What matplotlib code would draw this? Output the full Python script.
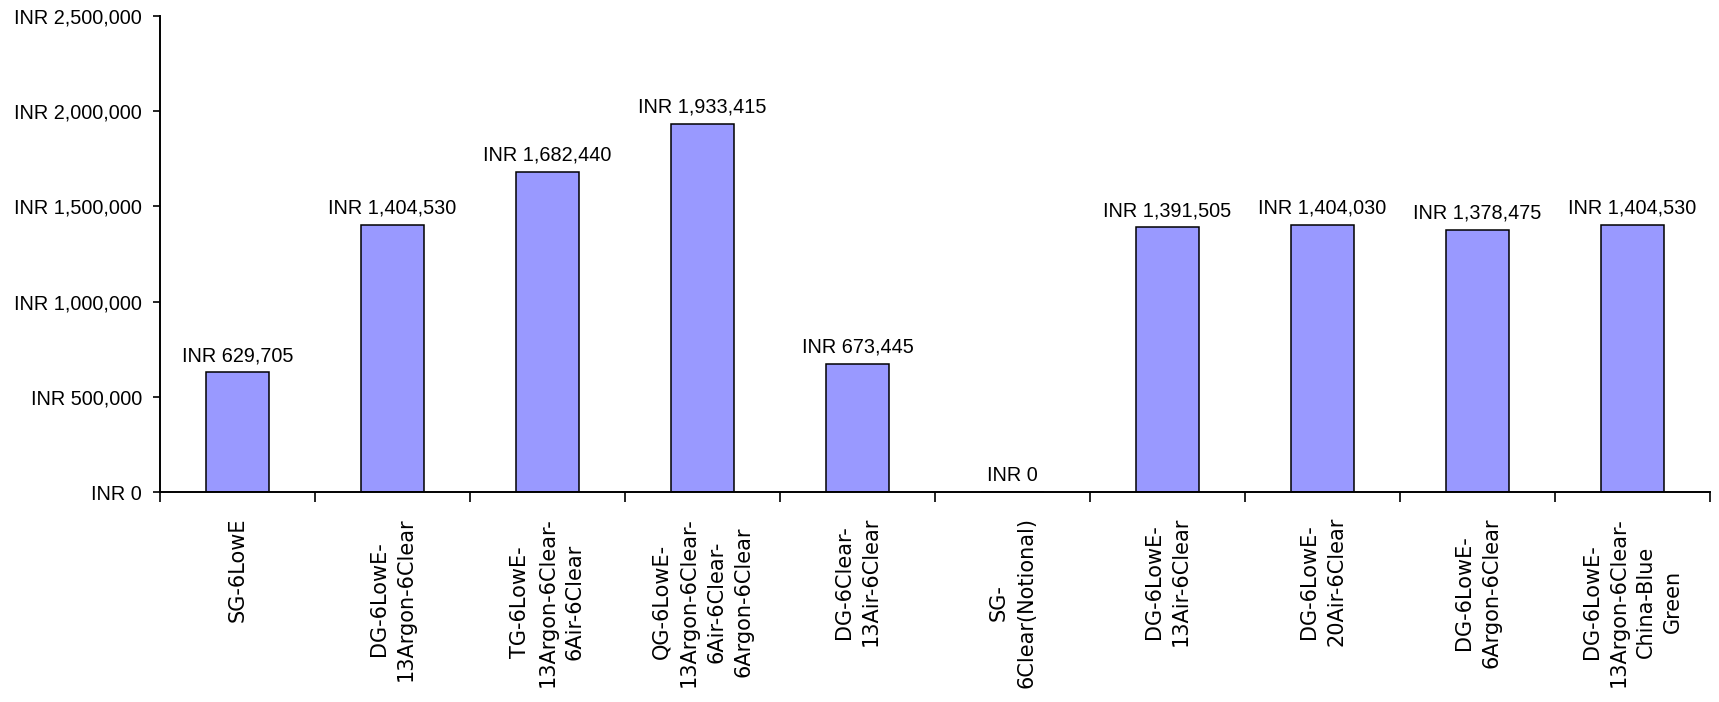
import matplotlib
matplotlib.use("Agg")
import matplotlib.pyplot as plt
from matplotlib.ticker import FuncFormatter, FixedLocator

# Glazing options and their cost
categories = [
    "SG-6LowE",
    "DG-6LowE-\n13Argon-6Clear",
    "TG-6LowE-\n13Argon-6Clear-\n6Air-6Clear",
    "QG-6LowE-\n13Argon-6Clear-\n6Air-6Clear-\n6Argon-6Clear",
    "DG-6Clear-\n13Air-6Clear",
    "SG-\n6Clear(Notional)",
    "DG-6LowE-\n13Air-6Clear",
    "DG-6LowE-\n20Air-6Clear",
    "DG-6LowE-\n6Argon-6Clear",
    "DG-6LowE-\n13Argon-6Clear-\nChina-Blue\nGreen",
]
costs = [629705, 1404530, 1682440, 1933415, 673445, 0,
         1391505, 1404030, 1378475, 1404530]
y_ticks = [0, 500000, 1000000, 1500000, 2000000, 2500000]


def fmt_inr(v):
    return "INR {:,}".format(int(v))


num_font = "Liberation Sans"
num_size = 14.3

W, H = 1719, 702
fig = plt.figure(figsize=(W / 100, H / 100), dpi=100)
ax = fig.add_axes([160 / W, (H - 492) / H, 1550 / W, 476 / H])

x = list(range(len(categories)))
bars = ax.bar(x, costs, width=0.41, color="#9999FF", edgecolor="black",
              linewidth=1.1, zorder=2)

ax.set_xlim(-0.5, len(categories) - 0.5)
ax.set_ylim(y_ticks[0], y_ticks[-1])

# y axis
ax.yaxis.set_major_locator(FixedLocator(y_ticks))
ax.yaxis.set_major_formatter(FuncFormatter(lambda v, p: fmt_inr(v)))
ax.tick_params(axis="y", direction="out", length=5, width=1.2, pad=8,
               labelsize=num_size, colors="black")
for lab in ax.get_yticklabels():
    lab.set_fontfamily(num_font)

# x axis: boundary ticks between categories, labels at centres
ax.set_xticks([i - 0.5 for i in range(len(categories) + 1)], minor=True)
ax.set_xticks(x)
ax.set_xticklabels(categories, rotation=90, ha="center", va="top",
                   multialignment="center", family="DejaVu Sans", fontsize=15,
                   linespacing=1.45)
ax.tick_params(axis="x", which="major", length=0, pad=18)
ax.tick_params(axis="x", which="minor", direction="out", length=7, width=1.2)

for side in ("top", "right"):
    ax.spines[side].set_visible(False)
for side in ("left", "bottom"):
    ax.spines[side].set_linewidth(1.4)
    ax.spines[side].set_color("black")

ax.bar_label(bars, labels=[fmt_inr(v) for v in costs], padding=5,
             fontsize=num_size, family=num_font, color="black")

fig.savefig("out.png", dpi=100)
